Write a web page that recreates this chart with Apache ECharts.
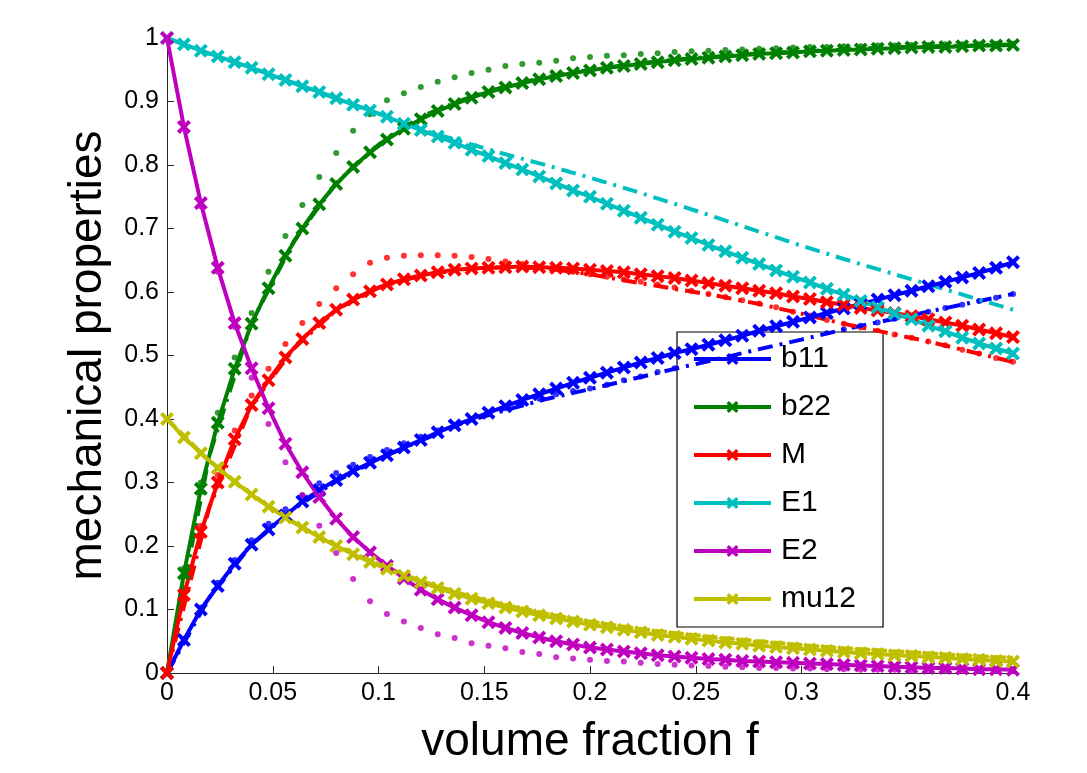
<!DOCTYPE html>
<html>
<head>
<meta charset="utf-8">
<script src="https://cdn.jsdelivr.net/npm/echarts@6/dist/echarts.min.js"></script>
<style>
html,body{margin:0;padding:0;background:#fff;}
#chart{width:1087px;height:773px;}
</style>
</head>
<body>
<div id="chart"></div>
<script>
// ---- data ----
const fVals = [0,0.008,0.016,0.024,0.032,0.040,0.048,0.056,0.064,0.072,0.080,0.088,0.096,0.104,0.112,0.120,0.128,0.136,0.144,0.152,0.160,0.168,0.176,0.184,0.192,0.200,0.208,0.216,0.224,0.232,0.240,0.248,0.256,0.264,0.272,0.280,0.288,0.296,0.304,0.312,0.320,0.328,0.336,0.344,0.352,0.360,0.368,0.376,0.384,0.392,0.400];
const fMid = [0,0.02,0.04,0.06,0.08,0.10,0.12,0.14,0.16,0.18,0.20,0.22,0.24,0.26,0.28,0.30,0.32,0.34,0.36,0.38,0.40];

const b11 = [0,0.052,0.100,0.137,0.172,0.202,0.226,0.248,0.270,0.288,0.304,0.318,0.331,0.343,0.355,0.367,0.379,0.390,0.400,0.410,0.420,0.430,0.439,0.448,0.457,0.465,0.473,0.481,0.489,0.496,0.504,0.510,0.517,0.524,0.531,0.539,0.546,0.553,0.560,0.567,0.574,0.581,0.588,0.595,0.602,0.609,0.616,0.623,0.630,0.638,0.647];
const b11Dotted = [0,0.054,0.103,0.142,0.178,0.209,0.235,0.258,0.280,0.299,0.315,0.328,0.340,0.351,0.362,0.372,0.382,0.391,0.400,0.409,0.417,0.425,0.432,0.439,0.444,0.448,0.454,0.461,0.467,0.474,0.480,0.486,0.492,0.498,0.504,0.510,0.516,0.522,0.529,0.535,0.541,0.547,0.552,0.558,0.563,0.569,0.575,0.580,0.586,0.591,0.597];
const b11DashDot = [0,0.119,0.202,0.259,0.302,0.337,0.366,0.394,0.414,0.432,0.447,0.463,0.479,0.494,0.510,0.525,0.541,0.555,0.569,0.583,0.597];

const b22 = [0,0.157,0.290,0.394,0.479,0.550,0.606,0.657,0.700,0.738,0.770,0.797,0.820,0.840,0.857,0.872,0.885,0.896,0.906,0.915,0.922,0.929,0.935,0.940,0.945,0.949,0.953,0.956,0.959,0.962,0.965,0.967,0.969,0.971,0.973,0.975,0.976,0.977,0.979,0.980,0.981,0.982,0.983,0.984,0.985,0.986,0.986,0.987,0.988,0.988,0.989];
const b22Dotted = [0,0.165,0.300,0.410,0.497,0.567,0.632,0.688,0.737,0.781,0.819,0.854,0.880,0.902,0.913,0.923,0.931,0.938,0.945,0.950,0.956,0.959,0.961,0.964,0.968,0.970,0.972,0.973,0.975,0.976,0.978,0.979,0.980,0.981,0.982,0.983,0.984,0.985,0.986,0.986,0.987,0.987,0.988,0.988,0.989,0.989,0.990,0.990,0.990,0.991,0.991];
const b22DashDot = [0,0.342,0.552,0.680,0.772,0.832,0.876,0.903,0.924,0.939,0.950,0.959,0.966,0.971,0.976,0.979,0.982,0.985,0.987,0.988,0.990];

const M = [0,0.123,0.222,0.300,0.368,0.422,0.461,0.497,0.526,0.551,0.572,0.588,0.601,0.612,0.620,0.626,0.631,0.635,0.637,0.638,0.639,0.640,0.639,0.638,0.637,0.635,0.633,0.631,0.628,0.625,0.622,0.618,0.614,0.610,0.606,0.602,0.598,0.593,0.589,0.584,0.580,0.575,0.571,0.567,0.562,0.557,0.552,0.547,0.541,0.535,0.529];
const MDotted = [0,0.130,0.232,0.312,0.382,0.437,0.479,0.518,0.551,0.581,0.606,0.628,0.646,0.654,0.657,0.658,0.658,0.657,0.655,0.652,0.648,0.644,0.640,0.636,0.632,0.628,0.624,0.620,0.616,0.612,0.607,0.602,0.597,0.592,0.587,0.582,0.576,0.569,0.563,0.556,0.550,0.544,0.539,0.533,0.528,0.522,0.516,0.509,0.503,0.496,0.490];
const MDashDot = [0,0.261,0.422,0.511,0.572,0.607,0.626,0.636,0.639,0.637,0.628,0.616,0.605,0.594,0.581,0.566,0.550,0.536,0.522,0.506,0.490];

const E1 = [1.0,0.990,0.980,0.971,0.962,0.953,0.943,0.934,0.924,0.915,0.905,0.895,0.886,0.876,0.865,0.855,0.845,0.835,0.824,0.814,0.803,0.793,0.782,0.771,0.760,0.750,0.739,0.728,0.717,0.706,0.695,0.685,0.674,0.664,0.654,0.644,0.634,0.624,0.615,0.605,0.596,0.586,0.576,0.566,0.557,0.547,0.538,0.528,0.519,0.511,0.503];
const E1DashDot = [1.0,0.975,0.953,0.929,0.905,0.881,0.856,0.836,0.817,0.799,0.780,0.760,0.739,0.717,0.695,0.673,0.652,0.632,0.612,0.592,0.572];

const E2 = [1.0,0.860,0.740,0.638,0.551,0.480,0.417,0.361,0.316,0.277,0.243,0.214,0.190,0.169,0.149,0.131,0.116,0.103,0.091,0.080,0.071,0.063,0.056,0.050,0.045,0.040,0.037,0.034,0.031,0.028,0.026,0.024,0.022,0.021,0.019,0.018,0.017,0.016,0.015,0.014,0.013,0.012,0.011,0.010,0.009,0.008,0.008,0.007,0.006,0.006,0.005];
const E2Dotted = [1.0,0.858,0.735,0.632,0.545,0.465,0.392,0.332,0.280,0.232,0.189,0.148,0.113,0.093,0.081,0.071,0.061,0.055,0.047,0.043,0.039,0.033,0.030,0.025,0.023,0.021,0.019,0.018,0.016,0.014,0.013,0.012,0.011,0.010,0.009,0.008,0.008,0.007,0.007,0.006,0.006,0.005,0.005,0.005,0.004,0.004,0.004,0.003,0.003,0.003,0.003];

const mu12 = [0.400,0.371,0.346,0.323,0.301,0.281,0.262,0.245,0.229,0.214,0.200,0.187,0.175,0.164,0.153,0.143,0.134,0.125,0.117,0.110,0.103,0.097,0.091,0.086,0.081,0.076,0.072,0.068,0.064,0.060,0.057,0.054,0.051,0.048,0.046,0.043,0.041,0.039,0.037,0.035,0.033,0.031,0.030,0.028,0.027,0.025,0.024,0.022,0.021,0.019,0.018];
const mu12Dashed = [0.400,0.334,0.281,0.237,0.201,0.171,0.145,0.124,0.107,0.093,0.081,0.071,0.063,0.056,0.050,0.044,0.039,0.035,0.031,0.027,0.024];

const legendNames = ['b11','b22','M','E1','E2','mu12'];
const xTicks = {min:0, max:0.4, interval:0.05};
const yTicks = {min:0, max:1, interval:0.1};

// ---- styles ----
const COL = {b11:'#0000FF', b22:'#008000', M:'#FF0000', E1:'#00BFBF', E2:'#BF00BF', mu12:'#BFBF00'};
const FONT = 'Liberation Sans, Arial, Helvetica, sans-serif';
const XMARK = 'path://M0,2 L2,0 L5,3 L8,0 L10,2 L7,5 L10,8 L8,10 L5,7 L2,10 L0,8 L3,5 Z';

function pairs(xs, ys){ return xs.map((x,i)=>[x, ys[i]]); }

function solid(name, ys){
  return {name, type:'line', data:pairs(fVals, ys), clip:false,
    symbol:XMARK, symbolSize:14, showSymbol:true,
    lineStyle:{color:COL[name], width:4},
    itemStyle:{color:COL[name]}, z:5};
}
function dots(name, ys){
  return {name:name+' dotted', type:'scatter', data:pairs(fVals, ys), clip:false,
    symbol:'circle', symbolSize:6, itemStyle:{color:COL[name]}, z:3};
}
function dashdot(name, ys, pattern){
  return {name:name+' dashdot', type:'line', data:pairs(fMid, ys), clip:false,
    smooth:false, showSymbol:false, symbol:'none',
    lineStyle:{color:COL[name], width:4, type:pattern||[15,7,3,7]}, z:4};
}

const series = [
  dots('b11', b11Dotted), dashdot('b11', b11DashDot),
  dots('b22', b22Dotted), dashdot('b22', b22DashDot),
  dots('M', MDotted), dashdot('M', MDashDot),
  dashdot('E1', E1DashDot),
  dots('E2', E2Dotted),
  dashdot('mu12', mu12Dashed, [12,5]),
  solid('b11', b11), solid('b22', b22), solid('M', M),
  solid('E1', E1), solid('E2', E2), solid('mu12', mu12)
];

const chart = echarts.init(document.getElementById('chart'), null, {renderer:'canvas'});
chart.setOption({
  animation:false,
  backgroundColor:'#ffffff',
  grid:{left:167, right:74, top:38, bottom:100, containLabel:false},
  xAxis:{type:'value', min:xTicks.min, max:xTicks.max, interval:xTicks.interval,
    name:'volume fraction f', nameLocation:'middle', nameGap:46,
    nameTextStyle:{fontSize:46, color:'#000', fontFamily:FONT},
    axisLine:{show:true, lineStyle:{color:'#262626', width:1}},
    axisTick:{show:true, inside:true, length:7, lineStyle:{color:'#262626'}},
    axisLabel:{fontSize:25, color:'#000', fontFamily:FONT, margin:8},
    splitLine:{show:false}},
  yAxis:{type:'value', min:yTicks.min, max:yTicks.max, interval:yTicks.interval,
    name:'mechanical properties', nameLocation:'middle', nameGap:56,
    nameTextStyle:{fontSize:46, color:'#000', fontFamily:FONT},
    axisLine:{show:true, lineStyle:{color:'#262626', width:1}},
    axisTick:{show:true, inside:true, length:7, lineStyle:{color:'#262626'}},
    axisLabel:{fontSize:25, color:'#000', fontFamily:FONT, margin:8},
    splitLine:{show:false}},
  legend:{data:legendNames, orient:'vertical', left:677, top:332,
    backgroundColor:'#fff', borderColor:'#000', borderWidth:1.2,
    padding:[9,27,10,15], itemWidth:77, itemHeight:15, itemGap:12,
    lineStyle:{width:4},
    textStyle:{fontSize:30, color:'#000', fontFamily:FONT, lineHeight:36, padding:[0,0,0,5]}},
  series
});
</script>
</body>
</html>
